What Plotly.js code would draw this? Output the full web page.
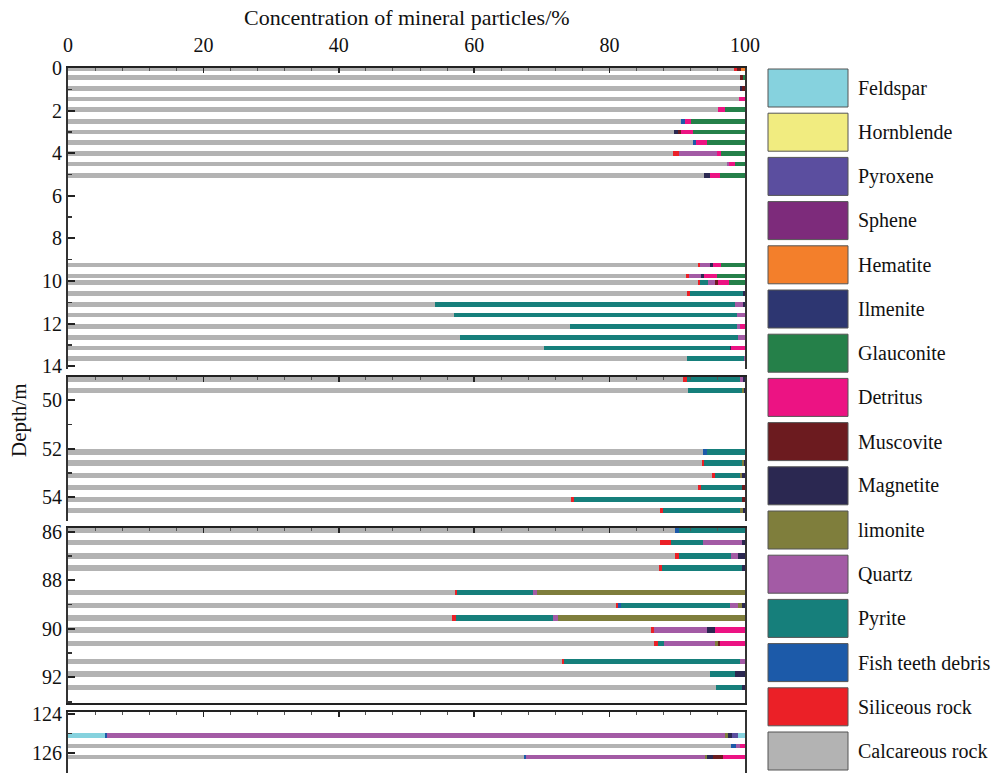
<!DOCTYPE html>
<html>
<head>
<meta charset="utf-8">
<script src="https://cdn.plot.ly/plotly-3.0.1.min.js"></script>
<style>
  html, body { margin: 0; padding: 0; background: #fff; }
  #chart { width: 999px; height: 773px; }
</style>
</head>
<body>
<div id="chart"></div>
<script>
// Sampling depths (m), one horizontal stacked bar per sample
const depths = [
  0.05, 0.45, 0.95, 1.45, 1.95, 2.5, 3.0, 3.5, 4.0, 4.5, 5.05,
  9.25, 9.77, 10.08, 10.6, 11.1, 11.6, 12.15, 12.65, 13.15, 13.65,
  49.15, 49.6, 52.15, 52.6, 53.1, 53.6, 54.1, 54.55,
  85.95, 86.45, 87.0, 87.5, 88.5, 89.05, 89.55, 90.05, 90.6, 91.35, 91.85, 92.4,
  125.1, 125.65, 126.2
];

// Mineral particle concentration (%) per sample, same order as depths
const calcareous = [
  98.4, 99.3, 99.2, 99.1, 96.0, 90.6, 89.5, 92.3, 89.4, 97.4, 93.9,
  93.0, 91.3, 93.0, 91.5, 54.2, 57.0, 74.2, 57.9, 70.3, 91.5,
  90.9, 91.6, 93.8, 93.6, 95.1, 93.1, 74.3, 87.4,
  89.7, 87.4, 89.7, 87.3, 57.1, 81.0, 56.7, 86.1, 86.5, 72.9, 94.8, 95.7,
  0, 98.0, 67.3
];
const siliceous = [
  0.4, 0, 0, 0, 0, 0, 0, 0, 0.8, 0, 0,
  0.3, 0.5, 0.4, 0.4, 0, 0, 0, 0, 0, 0,
  0.6, 0, 0, 0.4, 0.4, 0.4, 0.4, 0.5,
  0, 1.6, 0.5, 0.4, 0.4, 0.3, 0.6, 0.4, 0.6, 0.4, 0, 0,
  0, 0, 0
];
const fishTeeth = [
  0, 0, 0, 0, 0, 0.6, 0, 0.5, 0, 0, 0,
  0, 0, 0, 0, 0, 0, 0, 0, 0, 0,
  0, 0, 0.6, 0, 0, 0, 0, 0,
  0.5, 0, 0, 0, 0, 0.4, 0, 0, 0, 0, 0, 0,
  0.3, 0.6, 0.3
];
const pyrite = [
  0, 0, 0, 0, 0, 0, 0, 0, 0, 0, 0,
  0, 0, 1.2, 7.8, 44.3, 41.8, 24.6, 41.0, 27.5, 8.3,
  7.8, 7.9, 5.6, 5.5, 3.7, 6.0, 24.9, 11.4,
  9.8, 4.8, 7.8, 11.8, 11.2, 16.1, 14.4, 0, 0.9, 26.0, 3.7, 3.8,
  0, 0, 0
];
const quartz = [
  0, 0, 0, 0, 0, 0, 0, 0, 5.6, 0.3, 0,
  1.5, 1.7, 1.0, 0, 1.2, 1.2, 0.5, 1.1, 0, 0.2,
  0.4, 0, 0, 0, 0, 0, 0, 0,
  0, 5.7, 1.0, 0, 0.6, 1.2, 0.7, 7.9, 7.6, 0.7, 0, 0,
  91.3, 0.7, 26.5
];
const limonite = [
  0, 0, 0, 0, 0, 0, 0, 0, 0, 0, 0,
  0, 0, 0, 0, 0, 0, 0, 0, 0, 0,
  0, 0.3, 0, 0.3, 0.4, 0, 0, 0.4,
  0, 0, 0, 0, 30.7, 0.5, 27.6, 0, 0.4, 0, 0, 0,
  0.4, 0, 0.3
];
const magnetite = [
  0, 0, 0.4, 0, 0, 0, 0.6, 0, 0, 0, 0.9,
  0.5, 0.5, 0, 0.3, 0.3, 0, 0, 0, 0.2, 0,
  0.3, 0.2, 0, 0.2, 0.4, 0, 0, 0.3,
  0, 0.5, 1.0, 0.5, 0, 0.5, 0, 1.2, 0, 0, 1.5, 0.5,
  0.6, 0, 0.8
];
const muscovite = [
  0.6, 0.4, 0.4, 0, 0, 0, 0.5, 0, 0, 0, 0,
  0, 0, 0.4, 0, 0, 0, 0, 0, 0, 0,
  0, 0, 0, 0, 0, 0.5, 0.4, 0,
  0, 0, 0, 0, 0, 0, 0, 0, 0.3, 0, 0, 0,
  0, 0, 1.6
];
const detritus = [
  0, 0, 0, 0.9, 1.0, 0.8, 1.7, 1.6, 0.7, 0.8, 1.5,
  1.1, 1.8, 1.6, 0, 0, 0, 0.7, 0, 2.0, 0,
  0, 0, 0, 0, 0, 0, 0, 0,
  0, 0, 0, 0, 0, 0, 0, 4.4, 3.7, 0, 0, 0,
  0, 0.7, 3.2
];
const glauconite = [
  0, 0.3, 0, 0, 3.0, 8.0, 7.7, 5.6, 3.5, 1.5, 3.7,
  3.6, 4.2, 2.4, 0, 0, 0, 0, 0, 0, 0,
  0, 0, 0, 0, 0, 0, 0, 0,
  0, 0, 0, 0, 0, 0, 0, 0, 0, 0, 0, 0,
  0, 0, 0
];
const ilmenite = [
  0, 0, 0, 0, 0, 0, 0, 0, 0, 0, 0,
  0, 0, 0, 0, 0, 0, 0, 0, 0, 0,
  0, 0, 0, 0, 0, 0, 0, 0,
  0, 0, 0, 0, 0, 0, 0, 0, 0, 0, 0, 0,
  0, 0, 0
];
const hematite = [
  0.6, 0, 0, 0, 0, 0, 0, 0, 0, 0, 0,
  0, 0, 0, 0, 0, 0, 0, 0, 0, 0,
  0, 0, 0, 0, 0, 0, 0, 0,
  0, 0, 0, 0, 0, 0, 0, 0, 0, 0, 0, 0,
  0, 0, 0
];
const sphene = [
  0, 0, 0, 0, 0, 0, 0, 0, 0, 0, 0,
  0, 0, 0, 0, 0, 0, 0, 0, 0, 0,
  0, 0, 0, 0, 0, 0, 0, 0,
  0, 0, 0, 0, 0, 0, 0, 0, 0, 0, 0, 0,
  0, 0, 0
];
const pyroxene = [
  0, 0, 0, 0, 0, 0, 0, 0, 0, 0, 0,
  0, 0, 0, 0, 0, 0, 0, 0, 0, 0,
  0, 0, 0, 0, 0, 0, 0, 0,
  0, 0, 0, 0, 0, 0, 0, 0, 0, 0, 0, 0,
  0.9, 0, 0
];
const hornblende = [
  0, 0, 0, 0, 0, 0, 0, 0, 0, 0, 0,
  0, 0, 0, 0, 0, 0, 0, 0, 0, 0,
  0, 0, 0, 0, 0, 0, 0, 0,
  0, 0, 0, 0, 0, 0, 0, 0, 0, 0, 0, 0,
  0, 0, 0
];
const feldspar = [
  0, 0, 0, 0, 0, 0, 0, 0, 0, 0, 0,
  0, 0, 0, 0, 0, 0, 0, 0, 0, 0,
  0, 0, 0, 0, 0, 0, 0, 0,
  0, 0, 0, 0, 0, 0, 0, 0, 0, 0, 0, 0,
  1.0, 0, 0
];
// Feldspar recorded at the start of the 125.1 m bar, ahead of the quartz band
const feldsparLeading = [
  0, 0, 0, 0, 0, 0, 0, 0, 0, 0, 0,
  0, 0, 0, 0, 0, 0, 0, 0, 0, 0,
  0, 0, 0, 0, 0, 0, 0, 0,
  0, 0, 0, 0, 0, 0, 0, 0, 0, 0, 0, 0,
  5.5, 0, 0
];

// Legend entries (top to bottom) and their colours
const legendNames = [
  'Feldspar', 'Hornblende', 'Pyroxene', 'Sphene', 'Hematite', 'Ilmenite',
  'Glauconite', 'Detritus', 'Muscovite', 'Magnetite', 'limonite', 'Quartz',
  'Pyrite', 'Fish teeth debris', 'Siliceous rock', 'Calcareous rock'
];
const legendColors = [
  '#86d2de', '#f1ec80', '#5b4e9f', '#7d2b7b', '#f37f2b', '#2d3671',
  '#258049', '#ec1383', '#6c1b1f', '#2b2851', '#7f7e3c', '#a35ba5',
  '#167f7b', '#1c5aa9', '#eb2027', '#b3b3b3'
];

const xTicks = [0, 20, 40, 60, 80, 100];

// Stack from left to right
const stack = [
  ['Feldspar', feldsparLeading],
  ['Calcareous rock', calcareous],
  ['Siliceous rock', siliceous],
  ['Fish teeth debris', fishTeeth],
  ['Pyrite', pyrite],
  ['Quartz', quartz],
  ['limonite', limonite],
  ['Magnetite', magnetite],
  ['Muscovite', muscovite],
  ['Detritus', detritus],
  ['Glauconite', glauconite],
  ['Ilmenite', ilmenite],
  ['Hematite', hematite],
  ['Sphene', sphene],
  ['Pyroxene', pyroxene],
  ['Hornblende', hornblende],
  ['Feldspar', feldspar]
];

// ---- layout geometry (pixels) ----
const W = 999, H = 773;
const M = { l: 68, r: 254, t: 68, b: 0 };
const plotW = W - M.l - M.r, plotH = H - M.t - M.b;
const pyToPaper = py => 1 - (py - M.t) / plotH;
const pxToPaper = px => (px - M.l) / plotW;

// broken depth axis: four stacked panels
const panels = [
  { top: 68,  bottom: 369, range: [14.13, 0],       mirrorX: false },
  { top: 377, bottom: 521, range: [54.99, 49.05],   mirrorX: false },
  { top: 528, bottom: 703, range: [93.05, 85.85],   mirrorX: true  },
  { top: 712, bottom: 773, range: [127.03, 123.9],  mirrorX: false }
];

const serif = 'Liberation Serif, Times New Roman, serif';
const traces = [];
const layout = {
  width: W, height: H,
  margin: M,
  paper_bgcolor: '#ffffff',
  plot_bgcolor: '#ffffff',
  barmode: 'stack',
  showlegend: false,
  font: { family: serif, size: 20, color: '#111' },
  shapes: [],
  annotations: []
};

panels.forEach((p, k) => {
  const sfx = k === 0 ? '' : String(k + 1);
  const lo = Math.min(p.range[0], p.range[1]) - 0.3;
  const hi = Math.max(p.range[0], p.range[1]) + 0.3;
  const rows = depths.map((d, i) => i).filter(i => depths[i] >= lo && depths[i] <= hi);

  stack.forEach(([name, vals]) => {
    const color = legendColors[legendNames.indexOf(name)];
    traces.push({
      type: 'bar',
      orientation: 'h',
      name: name,
      y: rows.map(i => depths[i]),
      x: rows.map(i => vals[i]),
      width: 0.22,
      marker: { color: color, line: { width: 0 } },
      xaxis: 'x' + sfx,
      yaxis: 'y' + sfx,
      hovertemplate: name + ': %{x}%<br>%{y} m<extra></extra>'
    });
  });

  layout['xaxis' + sfx] = {
    domain: [0, 1],
    anchor: 'y' + sfx,
    side: 'top',
    range: [0, 100],
    matches: k === 0 ? undefined : 'x',
    tickvals: xTicks,
    ticktext: xTicks.map(String),
    showticklabels: k === 0,
    ticks: 'inside', ticklen: 5, tickwidth: 1.5, tickcolor: '#222',
    minor: { dtick: 4, tick0: 0, ticks: 'inside', ticklen: 3, tickcolor: '#555', tickwidth: 1 },
    ticklabelstandoff: 6,
    tickfont: { family: serif, size: 20, color: '#111' },
    showline: true, linecolor: '#222', linewidth: 2,
    mirror: p.mirrorX,
    showgrid: false, zeroline: false, fixedrange: true
  };
  layout['yaxis' + sfx] = {
    domain: [pyToPaper(p.bottom), pyToPaper(p.top)],
    anchor: 'x' + sfx,
    range: p.range,
    dtick: 2, tick0: 0,
    ticks: 'inside', ticklen: 7, tickwidth: 2, tickcolor: '#222',
    minor: { dtick: 1, tick0: 0, ticks: 'inside', ticklen: 4, tickwidth: 1.5, tickcolor: '#333' },
    tickfont: { family: serif, size: 20, color: '#111' },
    showline: true, linecolor: '#333', linewidth: 2,
    mirror: true,
    showgrid: false, zeroline: false, fixedrange: true
  };
});

// axis titles
layout.annotations.push({
  xref: 'paper', yref: 'paper',
  x: pxToPaper(407), y: pyToPaper(18),
  xanchor: 'center', yanchor: 'middle',
  text: 'Concentration of mineral particles/%',
  showarrow: false,
  font: { family: serif, size: 22, color: '#111' }
});
layout.annotations.push({
  xref: 'paper', yref: 'paper',
  x: pxToPaper(19), y: pyToPaper(420),
  xanchor: 'center', yanchor: 'middle',
  text: 'Depth/m', textangle: -90,
  showarrow: false,
  font: { family: serif, size: 21, color: '#111' }
});

// legend: colour swatch + name for each mineral
legendNames.forEach((name, i) => {
  const cy = 88 + 44.2 * i;
  layout.shapes.push({
    type: 'rect', xref: 'paper', yref: 'paper',
    x0: pxToPaper(768), x1: pxToPaper(848),
    y0: pyToPaper(cy + 19), y1: pyToPaper(cy - 19),
    fillcolor: legendColors[i],
    line: { color: '#555', width: 1 }
  });
  layout.annotations.push({
    xref: 'paper', yref: 'paper',
    x: pxToPaper(856), y: pyToPaper(cy),
    xanchor: 'left', yanchor: 'middle',
    text: name, showarrow: false,
    font: { family: serif, size: 20, color: '#111' }
  });
});

Plotly.newPlot('chart', traces, layout, { staticPlot: true, displayModeBar: false });
</script>
</body>
</html>
